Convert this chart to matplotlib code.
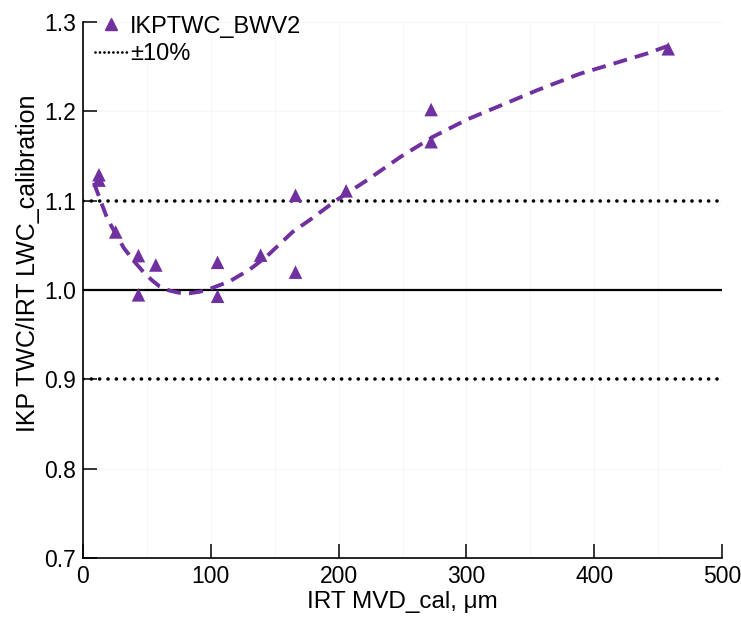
import matplotlib.pyplot as plt
from matplotlib.lines import Line2D
import numpy as np

# measured points
mvd = [12.5, 12.5, 25.6, 43.4, 57.0, 43.4, 105.3, 105.3, 139.0, 166.3, 166.3, 205.9, 272.4, 272.4, 457.9]
ratio = [1.129, 1.123, 1.065, 1.0385, 1.028, 0.9946, 1.031, 0.993, 1.039, 1.106, 1.020, 1.111, 1.202, 1.166, 1.270]

# fitted trend curve
fit_x = [8.5, 19.0, 25.6, 32.1, 41.3, 48.0, 54.3, 60.0, 67.4, 75.0, 83.1, 91.0, 98.7, 114.4, 130.1,
         143.2, 164.0, 178.0, 198.8, 222.3, 248.4, 274.5, 300.7, 324.2, 356.0, 388.7, 441.0, 459.2]
fit_y = [1.120, 1.080, 1.063, 1.0467, 1.030, 1.019, 1.0105, 1.004, 0.9995, 0.997, 0.9964, 0.998, 1.001, 1.0095, 1.0226,
         1.037, 1.065, 1.079, 1.101, 1.123, 1.149, 1.172, 1.191, 1.205, 1.224, 1.242, 1.2646, 1.274]

purple = "#7030a0"

plt.rcParams["font.family"] = ["Liberation Sans", "DejaVu Sans"]

fig = plt.figure(figsize=(7.41, 6.18), dpi=100)
ax = fig.add_axes([0.112, 0.097, 0.8624, 0.8674])

ax.set_xticks(np.arange(0, 501, 50), minor=True)
ax.grid(True, which="both", color="#f6f6f6", linewidth=0.8, zorder=0)

dot = (0, (0.01, 2.3))
ax.axhline(1.0, color="black", linewidth=1.6, zorder=2)
ax.axhline(1.1, color="black", linestyle=dot, dash_capstyle="round", linewidth=2.6, zorder=2)
ax.axhline(0.9, color="black", linestyle=dot, dash_capstyle="round", linewidth=2.6, zorder=2)

ax.plot(fit_x, fit_y, color=purple, linestyle=(0, (3.6, 2.1)), linewidth=2.8,
        dash_joinstyle="round", zorder=3)
ax.scatter(mvd, ratio, marker="^", s=95, color=purple, edgecolors="none", zorder=4)

ax.set_xlim(0, 500)
ax.set_ylim(0.7, 1.3)
ax.set_xticks([0, 100, 200, 300, 400, 500])
ax.set_yticks([0.7, 0.8, 0.9, 1.0, 1.1, 1.2, 1.3])
ax.set_yticklabels(["0.7", "0.8", "0.9", "1.0", "1.1", "1.2", "1.3"])
ax.tick_params(which="major", direction="in", length=10, width=1.1, labelsize=16.5)
ax.tick_params(axis="x", pad=5)
ax.tick_params(axis="y", pad=5)
ax.tick_params(which="minor", length=0)
for side in ("top", "right"):
    ax.spines[side].set_visible(False)
for side in ("left", "bottom"):
    ax.spines[side].set_linewidth(1.2)

ax.set_xlabel("IRT MVD_cal, \u03bcm", fontsize=17.5, labelpad=2)
ax.set_ylabel("IKP TWC/IRT LWC_calibration", fontsize=18)
ax.yaxis.set_label_coords(-0.068, 0.55)

legend_handles = [
    Line2D([], [], marker="^", linestyle="none", color=purple, markersize=9),
    Line2D([], [], color="black", linestyle=(0, (0.01, 1.6)), dash_capstyle="round", linewidth=2.0),
]
ax.legend(legend_handles, ["IKPTWC_BWV2", "±10%"], loc="upper left",
          bbox_to_anchor=(0.0, 1.034), frameon=False, fontsize=17, handlelength=1.4,
          handletextpad=0.1, borderaxespad=0, labelspacing=0.25, borderpad=0.5)

fig.savefig("out.png", dpi=100)
